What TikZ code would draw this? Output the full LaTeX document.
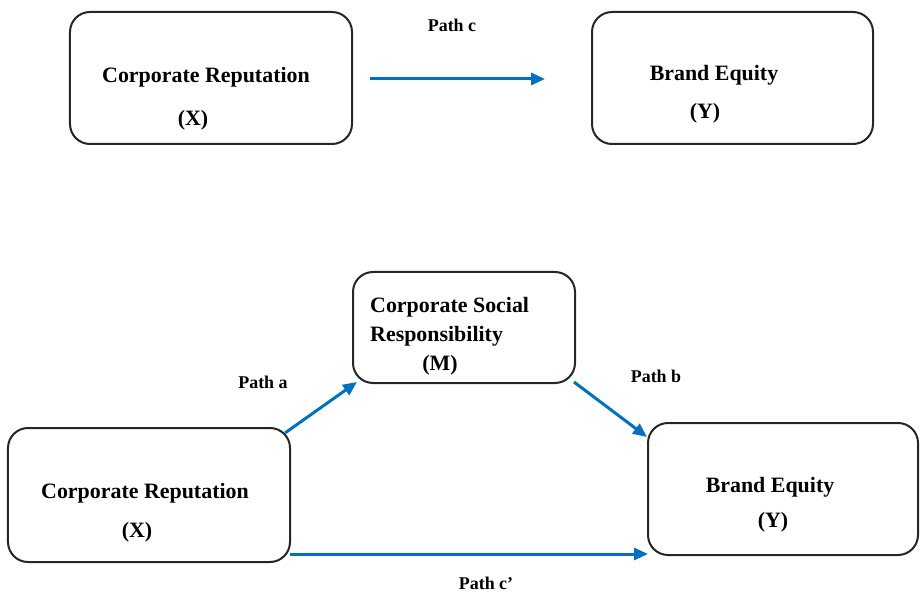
\documentclass[tikz,border=0pt]{standalone}
\usepackage{fontspec}
\setmainfont{Liberation Serif}
\usepackage{tikz}
\usetikzlibrary{arrows,arrows.meta,positioning}

\definecolor{pathblue}{RGB}{0,112,192}

\begin{document}
\begin{tikzpicture}[x=1bp, y=-1bp]
			\tikzstyle{Box}		= [draw=black!85, line width=2bp, rounded corners=20bp, inner sep=0pt]
			\tikzstyle{Name}	= [font=\fontsize{22}{29}\selectfont\bfseries, inner sep=0pt]
			\tikzstyle{PathLbl}	= [font=\fontsize{18}{22}\selectfont\bfseries, inner sep=0pt]
			\tikzstyle{Path}	= [draw=pathblue, line width=3bp, -{Triangle[length=14bp,width=12bp]}]

			\useasboundingbox (0,0) rectangle (920,594);

			% total effect
			\node (x1) at (211,78) [Box, minimum width=282bp, minimum height=132bp] {};
			\node (y1) at (732.5,78) [Box, minimum width=281bp, minimum height=132bp] {};
			\node (x1t) at (206,77) [Name] {Corporate Reputation};
			\node (x1s) at (193,120) [Name] {(X)};
			\node (y1t) at (714,75) [Name] {Brand Equity};
			\node (y1s) at (705,113) [Name] {(Y)};

			\coordinate (c1) at (370,79);
			\coordinate (c2) at (545,79);
			\draw (c1) to (c2) [Path];
			\node (pc) at (452,25) [PathLbl] {Path c};

			% mediation
			\node (m) at (464,327.5) [Box, minimum width=222bp, minimum height=111bp] {};
			\node (x2) at (149,495) [Box, minimum width=282bp, minimum height=134bp] {};
			\node (y2) at (783,489) [Box, minimum width=270bp, minimum height=132bp] {};
			\node (mt) at (370,322) [Name, anchor=west, align=left] {Corporate Social\\Responsibility};
			\node (ms) at (440,365) [Name] {(M)};
			\node (x2t) at (145,493) [Name] {Corporate Reputation};
			\node (x2s) at (137,532) [Name] {(X)};
			\node (y2t) at (770,487) [Name] {Brand Equity};
			\node (y2s) at (773,522) [Name] {(Y)};

			\coordinate (a1) at (285,433);
			\coordinate (a2) at (357,382);
			\coordinate (b1) at (574,382);
			\coordinate (b2) at (647,437);
			\coordinate (d1) at (290,554);
			\coordinate (d2) at (648,554);

			\draw (a1) to (a2) [Path];
			\draw (b1) to (b2) [Path];
			\draw (d1) to (d2) [Path];

			\node (pa) at (263,382) [PathLbl] {Path a};
			\node (pb) at (656,376) [PathLbl] {Path b};
			\node (pd) at (486,583) [PathLbl] {Path c'};
		\end{tikzpicture}
\end{document}
